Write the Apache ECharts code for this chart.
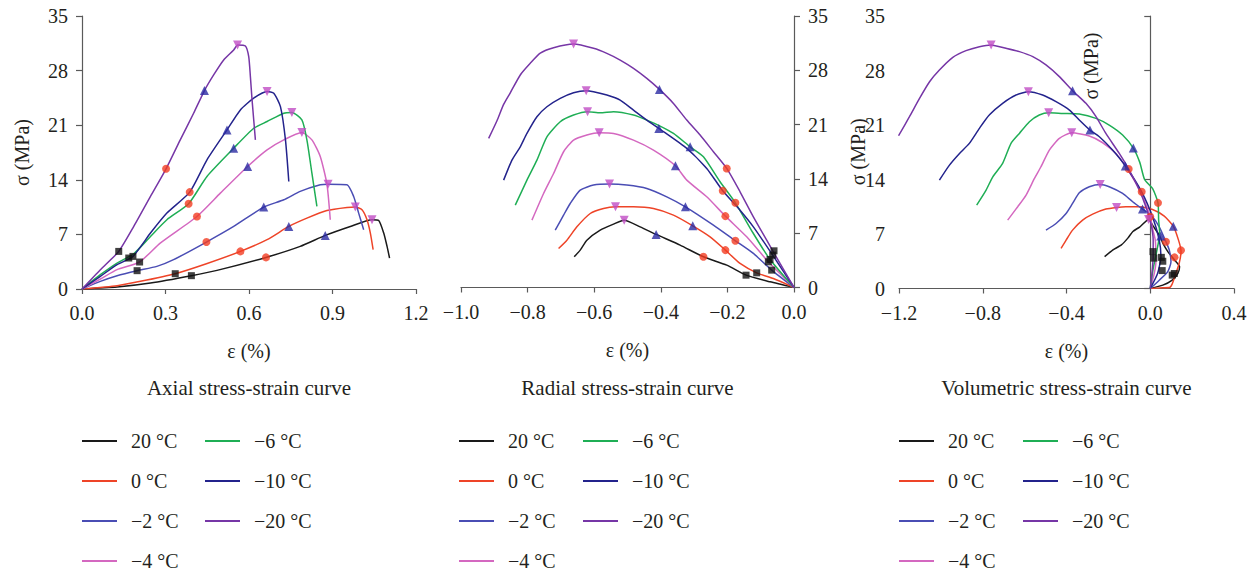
<!DOCTYPE html>
<html><head><meta charset="utf-8">
<script src="https://cdn.jsdelivr.net/npm/echarts@6/dist/echarts.min.js"></script>
<style>html,body{margin:0;padding:0;background:#fff}#c{width:1257px;height:574px}</style>
</head><body><div id="c"></div>
<script>
// ---------- categories ----------
const temps = ['20 °C', '0 °C', '−2 °C', '−4 °C', '−6 °C', '−10 °C', '−20 °C'];
const colors = ['#1a1a1a', '#ee4428', '#4a4db4', '#d468c0', '#1fae55', '#23238c', '#7636a6'];

// ---------- tick labels ----------
const yTicks = [0, 7, 14, 21, 28, 35];
const axialTicks = [0.0, 0.3, 0.6, 0.9, 1.2];
const radialTicks = [-1.0, -0.8, -0.6, -0.4, -0.2, 0.0];
const volTicks = [-1.2, -0.8, -0.4, 0.0, 0.4];

// ---------- axial strain (%) vs stress (MPa) ----------
const axial_20 = [[0,0],[0.126,0.26],[0.246,0.77],[0.393,1.71],[0.485,2.39],[0.661,4.05],[0.784,5.46],[0.874,6.87],[0.964,8.02],[1.042,8.88],[1.066,8.79],[1.084,7.17],[1.096,5.46],[1.105,3.97]];
const axial_0 = [[0,0],[0.126,0.43],[0.210,0.98],[0.335,1.96],[0.447,3.24],[0.569,4.82],[0.665,6.32],[0.743,8.02],[0.808,9.09],[0.880,10.07],[0.952,10.46],[0.982,10.50],[1.006,10.16],[1.024,8.88],[1.036,7.17],[1.046,5.04]];
const axial_m2 = [[0,0],[0.066,0.98],[0.126,1.71],[0.198,2.35],[0.269,2.90],[0.329,3.76],[0.447,6.02],[0.545,8.02],[0.653,10.50],[0.725,11.44],[0.784,12.51],[0.856,13.36],[0.884,13.44],[0.952,13.36],[0.976,11.86],[0.994,9.73],[1.012,7.60]];
const axial_m4 = [[0,0],[0.066,1.28],[0.126,2.48],[0.207,3.46],[0.281,5.89],[0.413,9.30],[0.497,12.29],[0.595,15.71],[0.665,17.84],[0.725,19.12],[0.790,20.06],[0.826,19.12],[0.856,16.99],[0.880,13.44],[0.892,8.88]];
const axial_m6 = [[0,0],[0.066,1.84],[0.126,3.33],[0.186,4.52],[0.246,6.74],[0.305,8.88],[0.383,10.93],[0.449,14.43],[0.545,18.05],[0.617,20.61],[0.665,21.47],[0.725,22.54],[0.754,22.62],[0.790,21.68],[0.808,19.12],[0.826,14.85],[0.844,10.58]];
const axial_m10 = [[0,0],[0.066,1.62],[0.126,3.12],[0.183,4.18],[0.246,7.17],[0.305,9.73],[0.387,12.42],[0.449,16.56],[0.521,20.40],[0.569,22.96],[0.617,24.46],[0.665,25.31],[0.689,25.10],[0.713,23.39],[0.731,19.12],[0.743,13.79]];
const axial_m20 = [[0,0],[0.066,2.48],[0.132,4.82],[0.186,8.02],[0.246,11.87],[0.302,15.41],[0.353,19.12],[0.401,22.53],[0.440,25.44],[0.473,27.44],[0.509,29.36],[0.545,30.64],[0.559,31.28],[0.587,31.16],[0.599,29.79],[0.605,27.23],[0.611,24.24],[0.623,19.12]];

// ---------- radial strain ----------
const radial_20 = [[0,0],[-0.072,0.73],[-0.144,1.59],[-0.202,2.88],[-0.272,3.96],[-0.342,5.46],[-0.414,6.84],[-0.462,7.82],[-0.510,8.68],[-0.542,8.17],[-0.582,7.39],[-0.622,6.10],[-0.642,4.82],[-0.660,3.96]];
const radial_0 = [[0,0],[-0.062,1.16],[-0.112,1.89],[-0.162,3.10],[-0.206,4.82],[-0.252,6.53],[-0.304,7.95],[-0.362,9.33],[-0.422,10.19],[-0.482,10.40],[-0.536,10.40],[-0.572,10.19],[-0.612,9.54],[-0.652,7.82],[-0.682,6.10],[-0.707,5.03]];
const radial_m2 = [[0,0],[-0.067,2.24],[-0.122,4.39],[-0.176,6.02],[-0.242,8.04],[-0.326,10.40],[-0.382,11.69],[-0.442,12.77],[-0.502,13.20],[-0.554,13.33],[-0.602,13.20],[-0.642,12.55],[-0.672,10.83],[-0.692,9.33],[-0.717,7.39]];
const radial_m4 = [[0,0],[-0.077,3.31],[-0.142,6.53],[-0.206,9.20],[-0.262,11.69],[-0.322,13.84],[-0.356,15.69],[-0.422,17.71],[-0.482,19.00],[-0.542,19.86],[-0.585,19.95],[-0.622,19.65],[-0.662,19.00],[-0.692,17.50],[-0.722,14.70],[-0.752,12.12],[-0.787,8.68]];
const radial_m6 = [[0,0],[-0.072,3.61],[-0.122,6.96],[-0.176,10.92],[-0.222,13.63],[-0.272,16.85],[-0.312,18.14],[-0.362,19.86],[-0.402,20.81],[-0.442,21.58],[-0.482,22.23],[-0.542,22.66],[-0.582,22.53],[-0.620,22.66],[-0.662,22.23],[-0.702,21.37],[-0.742,19.43],[-0.772,16.42],[-0.802,13.84],[-0.837,10.62]];
const radial_m10 = [[0,0],[-0.064,4.17],[-0.122,7.82],[-0.162,9.97],[-0.214,12.47],[-0.262,15.35],[-0.322,17.93],[-0.406,20.51],[-0.442,21.58],[-0.482,22.87],[-0.522,24.16],[-0.562,24.81],[-0.602,25.24],[-0.624,25.37],[-0.662,25.11],[-0.702,24.38],[-0.742,23.30],[-0.772,22.01],[-0.802,19.86],[-0.822,18.14],[-0.847,16.42],[-0.872,13.84]];
const radial_m20 = [[0,0],[-0.042,3.10],[-0.082,6.10],[-0.122,9.11],[-0.162,12.34],[-0.202,15.35],[-0.242,17.50],[-0.282,19.65],[-0.322,21.58],[-0.362,23.73],[-0.404,25.54],[-0.442,26.96],[-0.482,28.25],[-0.522,29.32],[-0.562,30.18],[-0.602,30.83],[-0.662,31.38],[-0.722,30.90],[-0.762,30.20],[-0.792,28.90],[-0.822,27.40],[-0.852,25.10],[-0.872,23.60],[-0.892,21.50],[-0.917,19.22]];

// ---------- volumetric strain ----------
const vol_20 = [[0,0],[0.060,0.43],[0.105,1.08],[0.132,1.94],[0.140,2.80],[0.116,3.66],[0.084,4.74],[0.060,5.82],[0.045,6.77],[0.015,7.97],[-0.008,8.85],[-0.051,7.89],[-0.083,7.33],[-0.107,6.47],[-0.138,5.60],[-0.178,4.96],[-0.218,4.09]];
const vol_0 = [[0,0],[0.059,0.09],[0.092,0.12],[0.105,0.60],[0.118,1.60],[0.138,3.21],[0.147,4.80],[0.135,6.21],[0.110,8.01],[0.067,9.30],[0.011,10.15],[-0.052,10.50],[-0.116,10.50],[-0.161,10.41],[-0.212,10.20],[-0.275,9.55],[-0.323,8.78],[-0.371,7.50],[-0.402,6.21],[-0.426,5.14]];
const vol_m2 = [[0,0],[0.043,1.07],[0.083,2.14],[0.099,3.43],[0.091,4.93],[0.075,6.00],[0.043,7.93],[0.003,9.43],[-0.037,10.20],[-0.084,11.14],[-0.132,12.21],[-0.196,13.07],[-0.239,13.37],[-0.291,13.07],[-0.339,12.30],[-0.371,10.93],[-0.402,9.64],[-0.450,8.35],[-0.498,7.50]];
const vol_m4 = [[0,0],[0.019,1.93],[0.027,3.43],[0.024,6.21],[0.011,7.71],[0.000,9.21],[-0.029,11.35],[-0.068,13.50],[-0.119,15.72],[-0.164,17.35],[-0.227,18.72],[-0.291,19.58],[-0.375,20.01],[-0.434,19.28],[-0.482,17.78],[-0.522,15.64],[-0.553,14.14],[-0.593,12.00],[-0.633,10.50],[-0.681,8.78]];
const vol_m6 = [[0,0],[0.013,2.40],[0.029,4.50],[0.045,7.10],[0.040,8.84],[0.037,11.00],[0.012,12.80],[-0.027,14.00],[-0.050,16.20],[-0.081,18.04],[-0.132,19.71],[-0.196,20.99],[-0.259,21.85],[-0.339,22.41],[-0.418,22.49],[-0.485,22.58],[-0.530,22.28],[-0.577,21.42],[-0.625,19.92],[-0.665,18.64],[-0.705,16.07],[-0.752,14.35],[-0.784,12.64],[-0.829,10.71]];
const vol_m10 = [[0,0],[0.035,1.93],[0.051,4.07],[0.043,6.21],[0.011,9.21],[-0.041,12.42],[-0.116,15.64],[-0.180,17.78],[-0.243,19.49],[-0.288,20.35],[-0.339,21.64],[-0.386,22.92],[-0.450,23.99],[-0.514,24.85],[-0.582,25.28],[-0.641,24.85],[-0.705,23.78],[-0.769,22.28],[-0.816,20.57],[-0.864,18.64],[-0.911,17.35],[-0.959,15.85],[-1.007,13.92]];
const vol_m20 = [[0,0],[0.008,1.93],[0.014,4.07],[0.014,6.21],[0.003,8.35],[-0.021,10.50],[-0.052,12.64],[-0.103,15.34],[-0.148,17.35],[-0.212,19.92],[-0.259,22.07],[-0.307,23.78],[-0.371,25.41],[-0.434,27.21],[-0.498,28.71],[-0.561,29.78],[-0.625,30.42],[-0.689,30.85],[-0.760,31.28],[-0.816,31.06],[-0.880,30.55],[-0.943,29.69],[-1.007,28.06],[-1.054,26.56],[-1.102,24.42],[-1.150,22.07],[-1.202,19.62]];

// ---------- characteristic points (square, circle, triangle, inverted triangle) ----------
const axial_sq  = [[0.132,4.82],[0.168,3.97],[0.183,4.18],[0.207,3.46],[0.198,2.35],[0.335,1.96],[0.393,1.71]];
const axial_ci  = [[0.302,15.41],[0.387,12.42],[0.383,10.93],[0.413,9.30],[0.447,6.02],[0.569,4.82],[0.661,4.05]];
const axial_tr  = [[0.440,25.44],[0.521,20.40],[0.545,18.05],[0.595,15.71],[0.653,10.50],[0.743,8.02],[0.874,6.87]];
const axial_itr = [[0.559,31.28],[0.665,25.31],[0.754,22.62],[0.790,20.06],[0.884,13.44],[0.982,10.50],[1.042,8.88]];
const radial_sq  = [[-0.060,4.73],[-0.064,4.17],[-0.072,3.61],[-0.077,3.31],[-0.067,2.24],[-0.112,1.89],[-0.144,1.59]];
const radial_ci  = [[-0.202,15.35],[-0.214,12.47],[-0.176,10.92],[-0.206,9.20],[-0.176,6.02],[-0.206,4.82],[-0.272,3.96]];
const radial_tr  = [[-0.404,25.54],[-0.406,20.51],[-0.312,18.14],[-0.356,15.69],[-0.326,10.40],[-0.304,7.95],[-0.414,6.84]];
const radial_itr = [[-0.662,31.38],[-0.624,25.37],[-0.620,22.66],[-0.585,19.95],[-0.554,13.33],[-0.536,10.40],[-0.510,8.68]];
const vol_sq  = [[0.013,4.74],[0.053,4.00],[0.017,3.90],[0.060,3.50],[0.057,2.30],[0.115,1.93],[0.105,1.72]];
const vol_ci  = [[-0.103,15.34],[-0.041,12.42],[0.037,11.00],[0.000,9.21],[0.075,6.00],[0.147,4.90],[0.116,4.00]];
const vol_tr  = [[-0.371,25.41],[-0.288,20.35],[-0.081,18.04],[-0.119,15.72],[-0.037,10.20],[0.110,8.01],[0.050,6.73]];
const vol_itr = [[-0.760,31.28],[-0.582,25.28],[-0.485,22.58],[-0.375,20.01],[-0.239,13.37],[-0.161,10.41],[-0.008,8.85]];

const panels = [
  {curves:[axial_20,axial_0,axial_m2,axial_m4,axial_m6,axial_m10,axial_m20], marks:[axial_sq,axial_ci,axial_tr,axial_itr], ticks:axialTicks},
  {curves:[radial_20,radial_0,radial_m2,radial_m4,radial_m6,radial_m10,radial_m20], marks:[radial_sq,radial_ci,radial_tr,radial_itr], ticks:radialTicks},
  {curves:[vol_20,vol_0,vol_m2,vol_m4,vol_m6,vol_m10,vol_m20], marks:[vol_sq,vol_ci,vol_tr,vol_itr], ticks:volTicks}
];
const subtitles = ['Axial stress-strain curve', 'Radial stress-strain curve', 'Volumetric stress-strain curve'];

const FONT = 'Liberation Serif, DejaVu Serif, serif';
const TXT = '#231f20';
const AX = '#5a5a5a';
const fmtX = v => Math.abs(v) < 1e-9 ? '0.0' : v.toFixed(1).replace('-', '−');

const gridDefs = [
  {left: 82, top: 16, width: 334, height: 273},
  {left: 461, top: 16, width: 333, height: 271.5},
  {left: 899, top: 16, width: 335, height: 272.5}
];

const xAxes = panels.map((p, i) => ({
  type: 'value', gridIndex: i,
  min: p.ticks[0], max: p.ticks[p.ticks.length - 1],
  interval: +(p.ticks[1] - p.ticks[0]).toFixed(2),
  name: 'ε (%)', nameLocation: 'middle', nameGap: 52,
  nameTextStyle: {fontFamily: FONT, fontSize: 20, color: TXT},
  axisLine: {show: true, onZero: false, lineStyle: {color: AX, width: 1.2}},
  axisTick: {show: true, length: 5, lineStyle: {color: AX, width: 1.2}},
  splitLine: {show: false},
  axisLabel: {fontFamily: FONT, fontSize: 20, color: TXT, margin: 14, formatter: fmtX}
}));

const yAxes = [0, 1, 2].map(i => ({
  type: 'value', gridIndex: i, min: yTicks[0], max: yTicks[yTicks.length - 1], interval: 7,
  position: i === 1 ? 'right' : 'left',
  name: i === 2 ? '' : 'σ (MPa)', nameLocation: 'middle', nameRotate: 90,
  nameGap: i === 0 ? 50 : 54,
  nameTextStyle: {fontFamily: FONT, fontSize: 20, color: TXT},
  axisLine: {show: true, onZero: i === 2, lineStyle: {color: AX, width: 1.2}},
  axisTick: {show: true, length: 6, lineStyle: {color: AX, width: 1.2}},
  splitLine: {show: false},
  axisLabel: {fontFamily: FONT, fontSize: 20, color: TXT, margin: 14}
}));

const series = [];
const markDefs = [
  {name: 'closure', symbol: 'rect', size: 7, color: '#111111', rotate: 0},
  {name: 'initiation', symbol: 'circle', size: 8, color: '#f23c22', rotate: 0},
  {name: 'damage', symbol: 'triangle', size: 9, color: '#2b2ba2', rotate: 0},
  {name: 'peak', symbol: 'triangle', size: 9, color: '#c04cc4', rotate: 180}
];
panels.forEach((p, pi) => {
  p.curves.forEach((d, ci) => {
    series.push({
      type: 'line', name: temps[ci], xAxisIndex: pi, yAxisIndex: pi, data: d,
      symbol: 'none', showSymbol: false, smooth: 0.2, z: 2,
      lineStyle: {color: colors[ci], width: 1.5}, itemStyle: {color: colors[ci]}
    });
  });
  p.marks.forEach((d, mi) => {
    const m = markDefs[mi];
    series.push({
      type: 'scatter', name: m.name, xAxisIndex: pi, yAxisIndex: pi, data: d,
      symbol: m.symbol, symbolSize: m.size, symbolRotate: m.rotate, z: 5,
      itemStyle: {color: m.color}
    });
  });
});

const legendLefts = [[82, 205], [459, 583], [899, 1023]];
const legends = [];
legendLefts.forEach(([a, b]) => {
  [[a, temps.slice(0, 4)], [b, temps.slice(4)]].forEach(([l, names]) => {
    legends.push({
      type: 'plain', orient: 'vertical', left: l, top: 431, height: 170, padding: 0,
      icon: 'rect', itemWidth: 35, itemHeight: 2, itemGap: 20,
      data: names,
      textStyle: {fontFamily: FONT, fontSize: 20, color: TXT, lineHeight: 20, padding: [0, 0, 0, 9]}
    });
  });
});

const centers = [249, 627.5, 1066.5];
const graphics = subtitles.map((s, i) => ({
  type: 'text', x: centers[i], y: 388,
  style: {text: s, font: '21px ' + FONT, fill: TXT, textAlign: 'center', textVerticalAlign: 'middle'}
}));
graphics.push({
  type: 'text', x: 1091, y: 66, rotation: Math.PI / 2,
  style: {text: 'σ (MPa)', font: '20px ' + FONT, fill: TXT, textAlign: 'center', textVerticalAlign: 'middle'}
});

const chart = echarts.init(document.getElementById('c'), null, {renderer: 'svg'});
chart.setOption({
  animation: false,
  backgroundColor: '#ffffff',
  grid: gridDefs.map(g => Object.assign({containLabel: false}, g)),
  xAxis: xAxes,
  yAxis: yAxes,
  legend: legends,
  graphic: graphics,
  series: series
});
</script></body></html>
